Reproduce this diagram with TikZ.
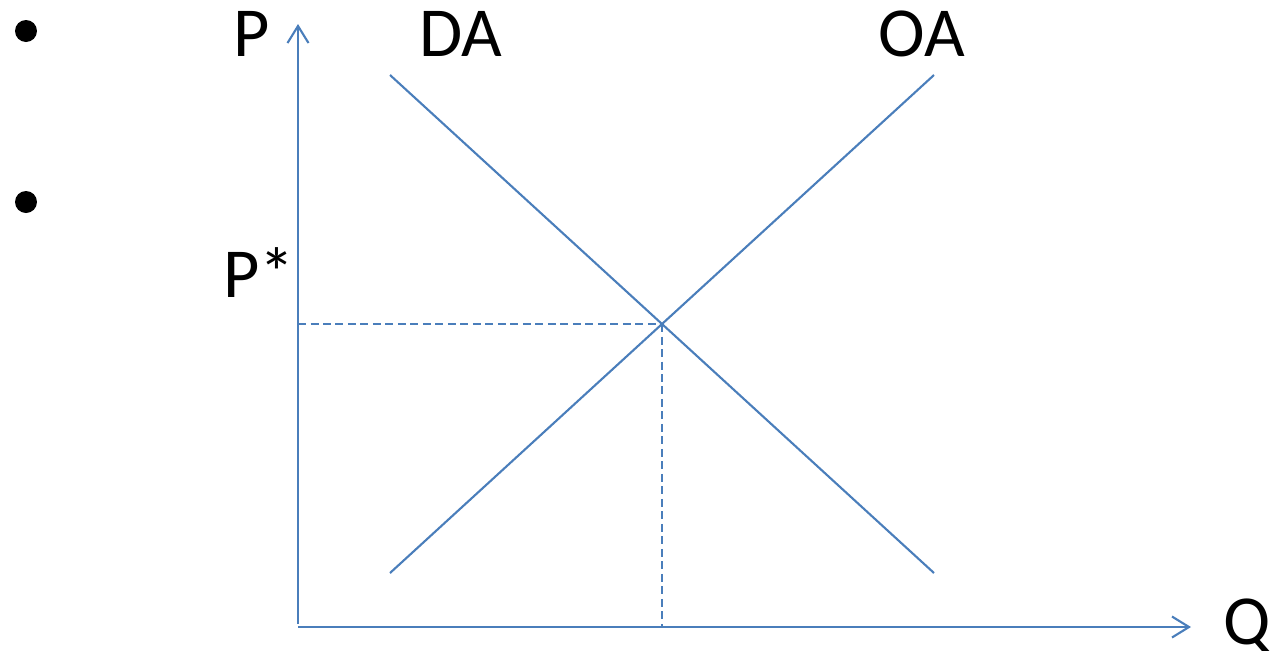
\documentclass[tikz,border=0pt]{standalone}
\usepackage{fontspec}
\setmainfont{Carlito}
\usetikzlibrary{arrows.meta}
\definecolor{lineblue}{HTML}{4A7EBB}
\tikzset{
  curve/.style={draw=lineblue, line width=1.2pt},
  axis/.style={draw=lineblue, line width=1.4pt, -{Straight Barb[length=0.34cm,width=0.42cm,line width=1.2pt]}},
  guide/.style={draw=lineblue, line width=1.1pt, dash pattern=on 0.16cm off 0.09cm},
  lbl/.style={inner sep=0pt, anchor=base, font=\fontsize{40}{48}\selectfont},
  bulletdot/.style={circle, fill=black, inner sep=0pt, minimum size=0.44cm}
}
\begin{document}
\begin{tikzpicture}[x=0.02cm, y=-0.02cm]
\useasboundingbox (0,0) rectangle (1270,650);
% bullets
\node[bulletdot] (b1) at (26,31) {};
\node[bulletdot] (b2) at (26,202) {};
% key points
\coordinate (O) at (298,627);
\coordinate (Ob) at (298,624);
\coordinate (Ptop) at (298,24);
\coordinate (Qend) at (1191,627);
\coordinate (da1) at (390,75);
\coordinate (da2) at (934,573);
\coordinate (oa1) at (390,573);
\coordinate (oa2) at (934,75);
\coordinate (E) at (662,324);
\coordinate (Ey) at (298,324);
\coordinate (Ex) at (662,627);
% axes
\draw[axis] (Ob) -- (Ptop);
\draw[axis] (O) -- (Qend);
% curves
\draw[curve] (da1) -- (da2);
\draw[curve] (oa1) -- (oa2);
% guides
\draw[guide] (Ey) -- (E);
\draw[guide] (E) -- (Ex);
% labels
\node[lbl] (lP) at (252,56) {P};
\node[lbl] (lDA) at (461,56) {DA};
\node[lbl] (lOA) at (922,56) {OA};
\node[lbl] (lPs) at (259,297) {P*};
\node[lbl] (lQ) at (1247,644) {Q};
\end{tikzpicture}
\end{document}
